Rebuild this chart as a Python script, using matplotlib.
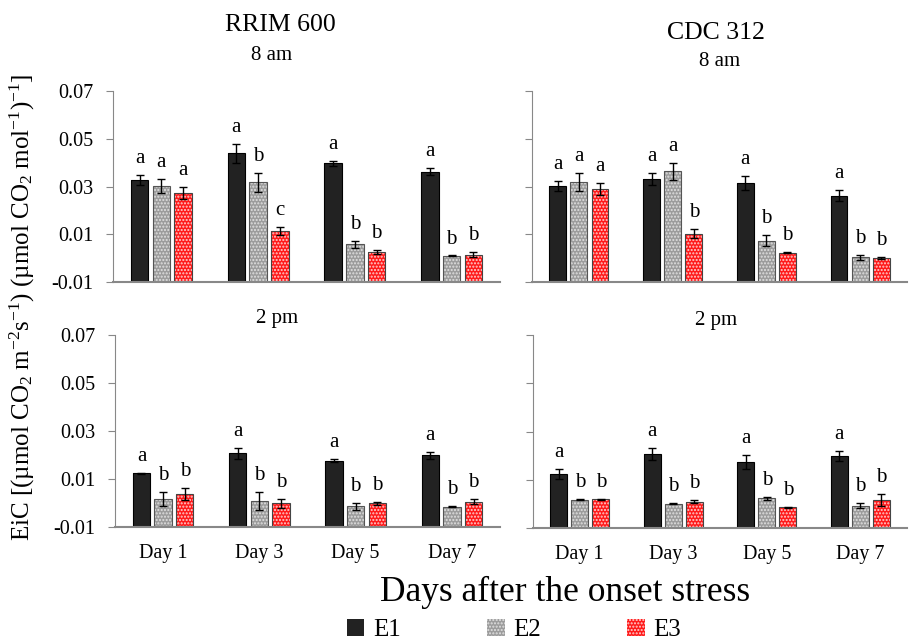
import matplotlib
matplotlib.use("Agg")
import matplotlib.pyplot as plt
from matplotlib.patches import Patch
import numpy as np

plt.rcParams['font.family'] = ['Liberation Serif', 'DejaVu Serif']
plt.rcParams['mathtext.fontset'] = 'custom'
plt.rcParams['mathtext.rm'] = 'Liberation Serif'
plt.rcParams['mathtext.it'] = 'Liberation Serif:italic'
plt.rcParams['axes.unicode_minus'] = False
plt.rcParams['hatch.linewidth'] = 1.0

days = ['Day 1', 'Day 3', 'Day 5', 'Day 7']
treatments = ['E1', 'E2', 'E3']

# RRIM 600, 8 am
rrim_am = [[0.0327, 0.0440, 0.0397, 0.0362],
           [0.0303, 0.0317, 0.0058, 0.0009],
           [0.0273, 0.0113, 0.0026, 0.0015]]
rrim_am_err = [[0.0022, 0.0040, 0.0010, 0.0014],
               [0.0030, 0.0038, 0.0014, 0.0002],
               [0.0024, 0.0018, 0.0007, 0.0012]]
rrim_am_let = [['a', 'a', 'a', 'a'], ['a', 'b', 'b', 'b'], ['a', 'c', 'b', 'b']]

# CDC 312, 8 am
cdc_am = [[0.0303, 0.0332, 0.0314, 0.0262],
          [0.0318, 0.0364, 0.0073, 0.0003],
          [0.0289, 0.0103, 0.0023, 0.0001]]
cdc_am_err = [[0.0022, 0.0025, 0.0029, 0.0022],
              [0.0038, 0.0036, 0.0022, 0.0010],
              [0.0026, 0.0018, 0.0003, 0.0003]]
cdc_am_let = [['a', 'a', 'a', 'a'], ['a', 'a', 'b', 'b'], ['a', 'b', 'b', 'b']]

# RRIM 600, 2 pm
rrim_pm = [[0.0124, 0.0207, 0.0176, 0.0198],
           [0.0016, 0.0007, -0.0014, -0.0016],
           [0.0039, -0.0002, -0.0002, 0.0006]]
rrim_pm_err = [[0.0002, 0.0024, 0.0007, 0.0015],
               [0.0028, 0.0038, 0.0015, 0.0002],
               [0.0025, 0.0017, 0.0007, 0.0012]]
rrim_pm_let = [['a', 'a', 'a', 'a'], ['b', 'b', 'b', 'b'], ['b', 'b', 'b', 'b']]

# CDC 312, 2 pm
cdc_pm = [[0.0125, 0.0206, 0.0175, 0.0198],
          [0.0018, 0.0001, 0.0023, -0.0007],
          [0.0019, 0.0009, -0.0014, 0.0015]]
cdc_pm_err = [[0.0021, 0.0024, 0.0029, 0.0022],
              [0.0003, 0.0002, 0.0005, 0.0011],
              [0.0003, 0.0007, 0.0002, 0.0025]]
cdc_pm_let = [['a', 'a', 'a', 'a'], ['b', 'b', 'b', 'b'], ['b', 'b', 'b', 'b']]

face = ['#222222', '#9c9c9c', '#ff1a1a']
dots = ['#222222', '#e0e0e0', '#ffd0d0']
outline = ['#000000', '#555555', '#444444']

W, H = 912, 641
fig = plt.figure(figsize=(W / 100, H / 100), dpi=100)


def panel(rect, vals, errs, lets, show_days):
    ax = fig.add_axes(rect)
    x = np.arange(len(days))
    for i in range(3):
        xi = x + (i - 1) * 0.225
        v = np.array(vals[i])
        ax.bar(xi, v + 0.01, 0.18, bottom=-0.01, color=face[i],
               edgecolor=dots[i], hatch='.....' if i else None, linewidth=0)
        ax.bar(xi, v + 0.01, 0.18, bottom=-0.01, fill=False,
               edgecolor=outline[i], linewidth=0.8)
        ax.errorbar(xi, v, yerr=errs[i], fmt='none', ecolor='black',
                    elinewidth=1, capsize=3, capthick=1)
        for j in range(len(days)):
            ax.annotate(lets[i][j], (xi[j], v[j] + errs[i][j]), xytext=(0, 5),
                        textcoords='offset points', ha='center', va='bottom',
                        fontsize=15)
    ax.set_xlim(-0.5, 3.5)
    ax.set_ylim(-0.01, 0.07)
    ax.set_yticks([-0.01, 0.01, 0.03, 0.05, 0.07])
    ax.set_xticks(x)
    if show_days:
        ax.set_xticklabels(days)
    else:
        ax.set_xticklabels([])
    ax.tick_params(axis='x', length=0, labelsize=14.5, pad=12)
    ax.tick_params(axis='y', length=5, color='#888888', labelsize=14.5, pad=9)
    for s in ['top', 'right']:
        ax.spines[s].set_visible(False)
    for s in ['left', 'bottom']:
        ax.spines[s].set_color('#888888')
    ax.spines['bottom'].set_linewidth(1.5)
    return ax


ax1 = panel([113 / W, 1 - 282 / H, 387 / W, 191 / H], rrim_am, rrim_am_err, rrim_am_let, False)
ax2 = panel([532 / W, 1 - 282 / H, 375 / W, 191 / H], cdc_am, cdc_am_err, cdc_am_let, False)
ax3 = panel([115 / W, 1 - 527 / H, 385 / W, 192 / H], rrim_pm, rrim_pm_err, rrim_pm_let, True)
ax4 = panel([533 / W, 1 - 528 / H, 374 / W, 193 / H], cdc_pm, cdc_pm_err, cdc_pm_let, True)
ax2.set_yticklabels([])
ax4.set_yticklabels([])

fig.text(280 / W, 1 - 25 / H, 'RRIM 600', ha='center', va='center', fontsize=18.5)
fig.text(272 / W, 1 - 55 / H, '8 am', ha='center', va='center', fontsize=15)
fig.text(716 / W, 1 - 33 / H, 'CDC 312', ha='center', va='center', fontsize=18.5)
fig.text(720 / W, 1 - 62 / H, '8 am', ha='center', va='center', fontsize=15)
fig.text(277 / W, 1 - 318 / H, '2 pm', ha='center', va='center', fontsize=15)
fig.text(716 / W, 1 - 320 / H, '2 pm', ha='center', va='center', fontsize=15)

fig.text(22 / W, 1 - 307 / H,
         r'EiC [(µmol CO$_2$ m$^{-2}$s$^{-1}$) (µmol CO$_2$ mol$^{-1}$)$^{-1}$]',
         rotation=90, ha='center', va='center', fontsize=18)
fig.text(565 / W, 1 - 592 / H, 'Days after the onset stress', ha='center',
         va='center', fontsize=25.5)

handles = [Patch(facecolor=face[i], edgecolor=dots[i] if i else outline[i],
                 hatch='.....' if i else None, linewidth=0) for i in range(3)]
fig.legend(handles, treatments, loc='center', bbox_to_anchor=(514 / W, 1 - 630 / H),
           ncol=3, frameon=False, fontsize=18, handlelength=0.7, handleheight=0.7,
           handletextpad=0.35, columnspacing=3.45, borderpad=0)

fig.savefig('out.png', dpi=100)
